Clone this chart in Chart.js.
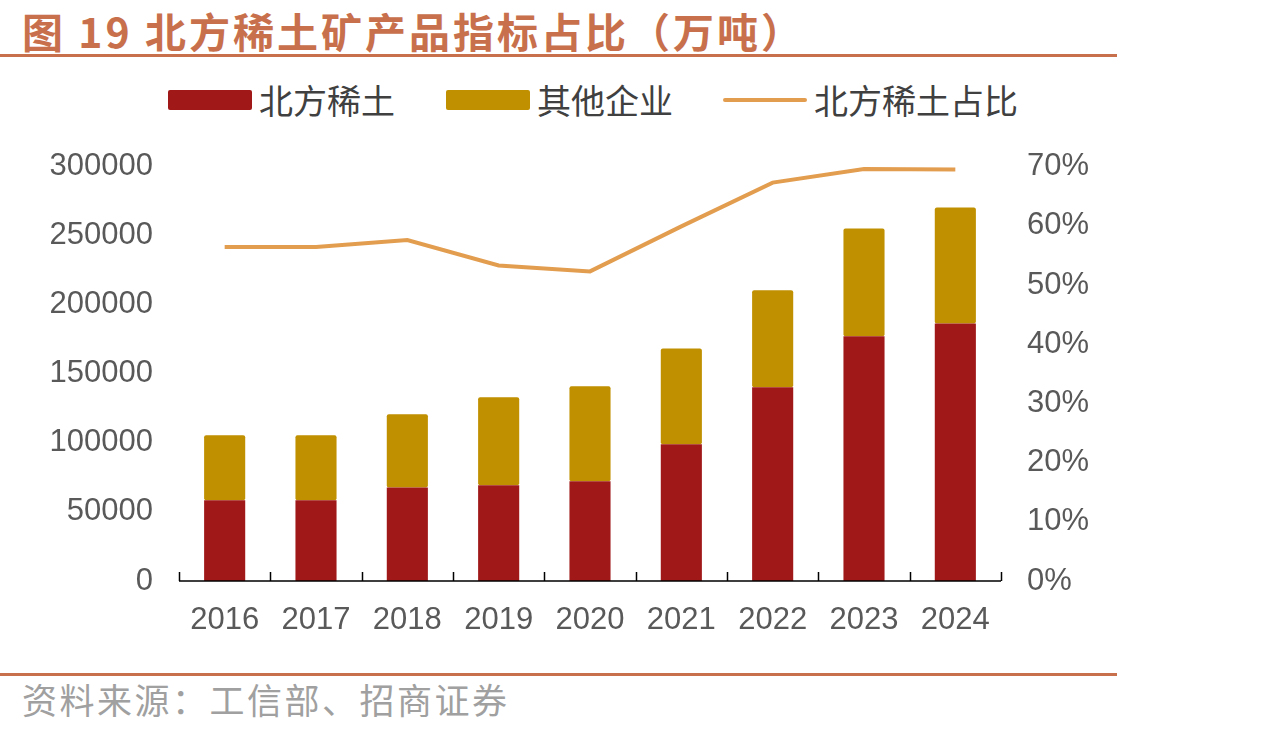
<!DOCTYPE html>
<html>
<head>
<meta charset="utf-8">
<script src="https://cdn.jsdelivr.net/npm/chart.js@4.4.1/dist/chart.umd.min.js"></script>
<style>
  body { margin: 0; width: 1271px; height: 735px; background: #fff; position: relative; overflow: hidden; font-family: "Noto Sans CJK SC", sans-serif; }
  #title { position: absolute; left: 22px; top: 0px; font-size: 41px; font-weight: 700; color: #c8704c; white-space: nowrap; letter-spacing: 3px; }
  .rule { position: absolute; left: 0; width: 1117px; height: 3px; background: #c8704c; }
  #legend { position: absolute; top: 78px; left: 0; height: 44px; width: 1117px; }
  .lg-box { position: absolute; top: 12px; width: 84px; height: 20px; border-radius: 2px; }
  .lg-line { position: absolute; top: 20px; width: 84px; height: 4px; background: #e39d4f; border-radius: 2px; }
  .lg-txt { position: absolute; top: 0; font-size: 34px; line-height: 44px; color: #404040; white-space: nowrap; }
  #source { position: absolute; left: 22px; top: 677px; font-size: 35px; line-height: 44px; color: #a0a0a0; white-space: nowrap; letter-spacing: 2.5px; }
  #wrap { position: absolute; left: 0; top: 130px; width: 1117px; height: 530px; }
</style>
</head>
<body>
<div id="title">图 19 北方稀土矿产品指标占比（万吨）</div>
<div class="rule" style="top:54px"></div>
<div id="legend">
  <div class="lg-box" style="left:168px;background:#a01818"></div>
  <div class="lg-txt" style="left:259px">北方稀土</div>
  <div class="lg-box" style="left:446px;background:#c09000"></div>
  <div class="lg-txt" style="left:537px">其他企业</div>
  <div class="lg-line" style="left:723px"></div>
  <div class="lg-txt" style="left:814px">北方稀土占比</div>
</div>
<div id="wrap"><canvas id="myChart"></canvas></div>
<div class="rule" style="top:673px"></div>
<div id="source">资料来源：工信部、招商证券</div>

<script>
const years = ["2016", "2017", "2018", "2019", "2020", "2021", "2022", "2023", "2024"];
const northValues = [58500, 58500, 67700, 69400, 72300, 99000, 140200, 177100, 186500];
const otherValues = [47000, 47000, 53000, 63600, 68700, 69400, 70200, 78100, 83900];
const shareValues = [56.4, 56.4, 57.6, 53.3, 52.3, 59.9, 67.3, 69.6, 69.5];

const tickFont = { family: "'Liberation Sans', Arial, sans-serif", size: 31 };
const tickColor = "#595959";

// baseline with small ticks pointing up between categories
const axisLine = {
  id: "axisLine",
  afterDatasetsDraw(chart) {
    const x = chart.scales.x;
    const y0 = chart.scales.y.getPixelForValue(0);
    const ctx = chart.ctx;
    ctx.save();
    ctx.strokeStyle = "#000";
    ctx.lineWidth = 1.5;
    ctx.beginPath();
    ctx.moveTo(x.left, y0);
    ctx.lineTo(x.right, y0);
    const step = x.width / years.length;
    for (let i = 0; i <= years.length; i++) {
      const px = Math.round(x.left + i * step) + 0.5;
      ctx.moveTo(px, y0);
      ctx.lineTo(px, y0 - 9);
    }
    ctx.stroke();
    ctx.restore();
  },
};

new Chart("myChart", {
  data: {
    labels: years,
    datasets: [
      {
        type: "line",
        label: "北方稀土占比",
        data: shareValues,
        yAxisID: "y1",
        borderColor: "#e39d4f",
        borderWidth: 4,
        pointRadius: 0,
        tension: 0,
        fill: false,
        order: 0,
      },
      {
        type: "bar",
        label: "北方稀土",
        data: northValues,
        yAxisID: "y",
        backgroundColor: "#a01818",
        borderRadius: 2,
        borderSkipped: false,
        barPercentage: 0.45,
        categoryPercentage: 1,
        order: 1,
      },
      {
        type: "bar",
        label: "其他企业",
        data: otherValues,
        yAxisID: "y",
        backgroundColor: "#c09000",
        borderRadius: 2,
        borderSkipped: false,
        barPercentage: 0.45,
        categoryPercentage: 1,
        order: 1,
      },
    ],
  },
  options: {
    responsive: true,
    maintainAspectRatio: false,
    animation: false,
    layout: { padding: { top: 28, bottom: 0, left: 0, right: 0 } },
    plugins: { legend: { display: false }, tooltip: { enabled: false } },
    scales: {
      x: {
        stacked: true,
        offset: true,
        grid: { display: false },
        border: { display: false },
        ticks: { font: tickFont, color: tickColor, padding: 13, maxRotation: 0 },
        afterFit: (s) => { s.height = 79; },
      },
      y: {
        stacked: true,
        position: "left",
        min: 0,
        max: 300000,
        grid: { display: false },
        border: { display: false },
        ticks: { stepSize: 50000, font: tickFont, color: tickColor, padding: 18, callback: (v) => String(v) },
        afterFit: (s) => { s.width = 179; },
      },
      y1: {
        position: "right",
        min: 0,
        max: 70,
        grid: { display: false },
        border: { display: false },
        ticks: {
          stepSize: 10,
          font: tickFont,
          color: tickColor,
          padding: 18,
          callback: (v) => v + "%",
        },
        afterFit: (s) => { s.width = 116; },
      },
    },
  },
  plugins: [axisLine],
});
</script>
</body>
</html>
